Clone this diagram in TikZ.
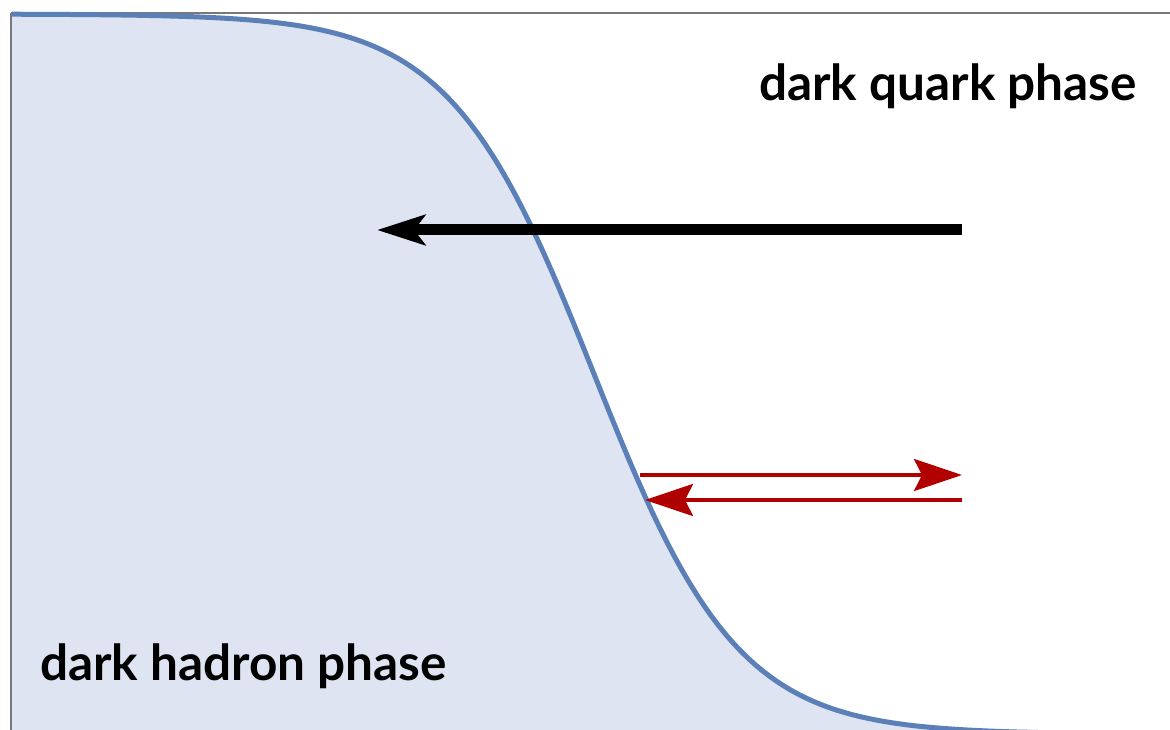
\documentclass[tikz,border=0pt]{standalone}
\usepackage{fontspec}
\setmainfont{Lato}
\usepackage{tikz}
\usetikzlibrary{positioning,arrows.meta}

\definecolor{hadronfill}{RGB}{222,228,241}
\definecolor{boundary}{RGB}{91,128,184}
\definecolor{flux}{RGB}{176,0,0}
\definecolor{framegray}{RGB}{120,120,120}

\begin{document}
\begin{tikzpicture}[
  x=1pt, y=-1pt,
  frame/.style={line width=2pt, framegray},
  wall/.style={line width=5pt, boundary},
  sweep/.style={-{Stealth[length=48pt, width=30pt, inset=11pt]}, line width=11pt, black},
  flow/.style={-{Stealth[length=48pt, width=32pt, inset=8pt]}, line width=3.5pt, flux},
  phase/.style={font=\fontsize{49.5}{56}\selectfont\bfseries, inner sep=0pt}
]
  \useasboundingbox (0,0) rectangle (1170,730);
  \clip (0,0) rectangle (1170,730);

  % --- hadron region below the bubble wall ------------------------------
  \fill[hadronfill] plot[domain=12:1170, samples=160]
      (\x, {14+720/(1+exp(-(\x-594)/72))}) -- (1170,730) -- (12,730) -- cycle;

  % --- frame (top and left edges) ---------------------------------------
  \draw[frame] (11,13) -- (1170,13);
  \draw[frame] (11,13) -- (11,730);

  % --- wall profile -----------------------------------------------------
  \draw[wall] plot[domain=12:1170, samples=160]
      (\x, {14+720/(1+exp(-(\x-594)/72))});

  % --- wall motion ------------------------------------------------------
  \coordinate (sweepfrom) at (962,230);
  \coordinate (sweepto) at (377,230);
  \draw[sweep] (sweepfrom) -- (sweepto);

  % --- reflected / transmitted flux -------------------------------------
  \coordinate (outfrom) at (640,475);
  \coordinate (outto) at (962,475);
  \coordinate (infrom) at (962,500);
  \coordinate (into) at (645,500);
  \draw[flow] (outfrom) -- (outto);
  \draw[flow] (infrom) -- (into);

  % --- phase labels -----------------------------------------------------
  \node[phase, anchor=base east] (quark) at (1137,101) {dark quark phase};
  \node[phase, anchor=base west] (hadron) at (40,680) {dark hadron phase};
\end{tikzpicture}
\end{document}
